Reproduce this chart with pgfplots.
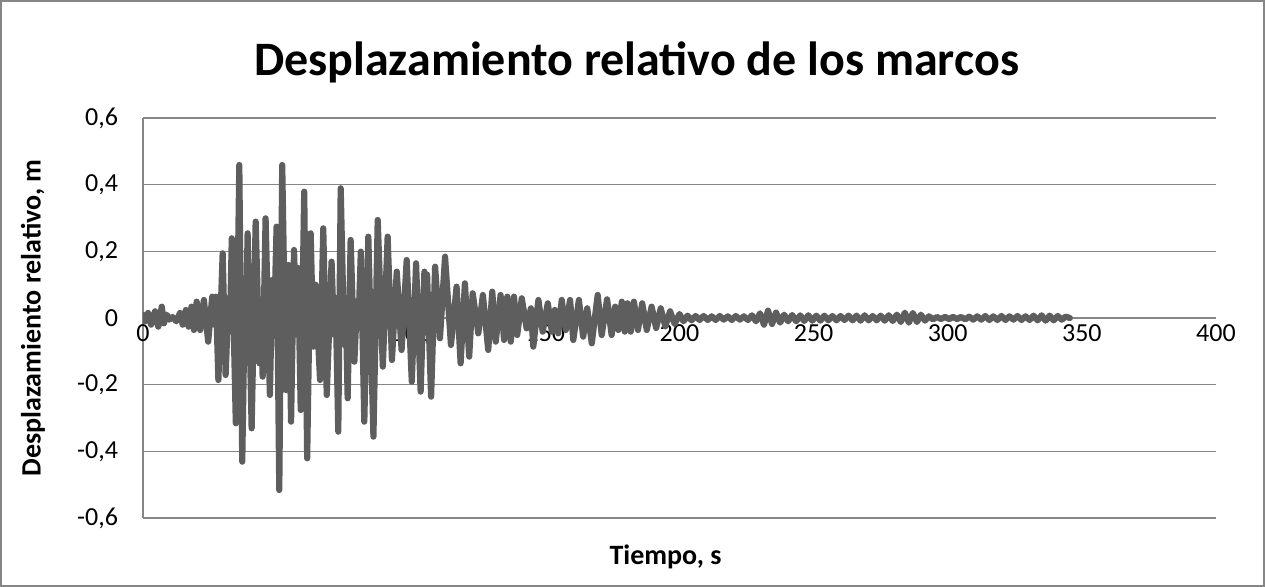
\documentclass[border=0pt]{standalone}
\usepackage{pgfplots}
\pgfplotsset{compat=1.18}
\usepackage{fontspec}
\setmainfont{Carlito}
\definecolor{gridgray}{RGB}{134,134,134}
\definecolor{linegray}{RGB}{94,94,94}
\begin{document}
\begin{tikzpicture}
\useasboundingbox (0,0) rectangle (632.5pt,293.5pt);
\draw[gridgray, line width=0.8pt] (0.5pt,0.5pt) rectangle (632pt,293pt);
\begin{axis}[
  at={(71.5pt,34.5pt)}, anchor=south west,
  scale only axis, width=536.5pt, height=200pt,
  xmin=0, xmax=400, ymin=-0.6, ymax=0.6,
  axis x line*=middle, axis y line*=left,
  axis line style={gridgray, line width=0.7pt},
  hide obscured x ticks=false, hide obscured y ticks=false,
  xtick={0,50,...,400},
  ytick={-0.6,-0.4,-0.2,0,0.2,0.4,0.6},
  major tick length=0pt,
  ymajorgrids, grid style={gridgray, line width=0.7pt},
  tick label style={font=\fontsize{13}{15}\selectfont},
  /pgf/number format/assume math mode=true,
  /pgf/number format/use comma,
  yticklabel={\pgfmathprintnumber[fixed,precision=1,use comma]{\tick}},
  xticklabel={\pgfmathprintnumber[fixed,precision=0]{\tick}},
  yticklabel style={anchor=east, xshift=-9pt},
  xticklabel style={anchor=north, yshift=0pt},
  title={\bfseries Desplazamiento relativo de los marcos},
  title style={font=\fontsize{24}{28}\selectfont, at={(rel axis cs:0.46,1.14)}, anchor=center, yshift=-6pt},
  xlabel={\bfseries Tiempo, s},
  xlabel style={font=\fontsize{14}{16}\selectfont, at={(rel axis cs:0.487,-0.0975)}, anchor=center},
  ylabel={\bfseries Desplazamiento relativo, m},
  ylabel style={font=\fontsize{14}{16}\selectfont, at={(rel axis cs:-0.1025,0.5)}, anchor=center, rotate=0},
]
\addplot[color=linegray, line width=3.1pt, line join=round, line cap=round] table {
x y
0 0.01
0.8 -0.01
1.9 0.015
3.0 -0.02
4.5 0.02
5.7 -0.026
7.0 0.034
7.8 -0.016
8.8 0.01
9.8 -0.005
11 0.003
12.4 -0.01
13.8 0.015
14.8 -0.02
16.0 0.024
17.0 -0.026
18.1 0.034
19.0 -0.036
20.0 0.049
21.3 -0.036
22.7 0.054
24.3 -0.071
25.8 0.064
26.6 -0.02
27.2 0.064
28.1 -0.186
29.7 0.194
30.8 -0.171
31.9 0.06
32.4 -0.04
33.1 0.239
34.6 -0.316
35.9 0.459
37.0 -0.431
38.0 0.08
38.4 -0.02
39.0 0.254
40.5 -0.331
42.0 0.289
43.4 -0.136
44.0 0.02
44.6 -0.176
45.7 0.299
47.3 -0.231
48.2 0.114
48.8 -0.05
49.8 0.274
50.8 -0.516
51.9 0.459
53.3 -0.216
54.2 0.159
55.2 -0.311
56.3 0.204
57.2 -0.05
57.8 0.15
58.8 -0.276
60.1 0.379
61.2 -0.421
62.5 0.254
63.5 -0.086
64.3 0.10
66.0 -0.186
67.2 0.269
68.5 -0.231
70.3 0.169
71.2 -0.05
71.8 0.06
72.8 -0.341
73.7 0.389
75.0 -0.08
75.6 0.02
76.3 -0.241
77.4 0.234
78.8 -0.131
79.8 0.05
80.3 -0.03
81.2 0.199
82.5 -0.311
84.0 0.244
85.9 -0.356
87.5 0.294
89.4 -0.146
91.2 0.244
92.8 -0.126
94.6 0.139
96.4 -0.096
98.3 0.174
100.2 -0.191
101.8 0.164
103.5 -0.221
104.9 0.139
105.4 0.06
105.9 0.13
107.4 -0.236
108.9 0.154
110.7 -0.061
112.6 0.184
114.8 -0.081
116.9 0.094
118.4 -0.136
120.0 0.104
121.6 -0.116
122.9 0.074
125.0 -0.046
126.7 0.069
128.7 -0.096
130.2 0.079
131.5 -0.071
133.3 0.069
134.6 -0.066
135.8 0.064
137.1 -0.071
138.3 0.064
139.5 -0.051
141.2 0.059
143.0 -0.031
144.6 0.029
145.5 -0.086
147.4 0.054
149.0 -0.041
150.9 0.044
152.4 -0.041
153.5 0.024
154.8 -0.046
156.1 0.054
157.6 -0.036
159.2 0.054
160.4 -0.066
162.5 0.054
164.1 -0.056
165.6 0.029
167.3 -0.076
169.5 0.069
171.0 -0.051
173.0 0.056
174.7 -0.051
176.0 0.034
177.2 -0.036
178.5 0.049
179.6 -0.041
180.6 0.044
181.8 -0.041
183.0 0.049
184.5 -0.036
186.1 0.044
187.8 -0.036
189.6 0.034
191.3 -0.03
193.0 0.029
194.7 -0.025
196.5 0.02
198.2 -0.018
200.0 0.012
201.5 -0.010
203.0 0.007
204.5 -0.007
206.0 0.006
207.5 -0.006
209.0 0.006
210.5 -0.006
212.0 0.005
213.5 -0.006
215.0 0.006
216.5 -0.005
218.0 0.005
219.5 -0.006
221.0 0.006
222.5 -0.005
224.0 0.005
225.5 -0.006
227.0 0.008
228.5 -0.010
230.0 0.014
231.5 -0.020
233.0 0.022
234.5 -0.018
236.0 0.016
237.5 -0.014
239.0 0.010
240.5 -0.010
242.0 0.009
243.5 -0.010
245.0 0.008
246.5 -0.009
248.0 0.008
249.5 -0.008
251.0 0.007
252.5 -0.008
254.0 0.007
255.5 -0.007
257.0 0.006
258.5 -0.007
260.0 0.006
261.5 -0.006
263.0 0.007
264.5 -0.007
266.0 0.007
267.5 -0.008
269.0 0.008
270.5 -0.007
272.0 0.006
273.5 -0.007
275.0 0.007
276.5 -0.008
278.0 0.008
279.5 -0.009
281.0 0.010
282.5 -0.012
284.0 0.016
285.5 -0.014
287.0 0.015
288.5 -0.012
290.0 0.010
291.5 -0.008
293.0 0.005
294.5 -0.004
296.0 0.003
297.5 -0.003
299.0 0.003
300.5 -0.003
302.0 0.003
303.5 -0.003
305.0 0.003
306.5 -0.004
308.0 0.004
309.5 -0.005
311.0 0.005
312.5 -0.005
314.0 0.006
315.5 -0.006
317.0 0.005
318.5 -0.006
320.0 0.006
321.5 -0.006
323.0 0.005
324.5 -0.005
326.0 0.006
327.5 -0.006
329.0 0.005
330.5 -0.006
332.0 0.007
333.5 -0.007
335.0 0.008
336.5 -0.008
338.0 0.007
339.5 -0.007
341.0 0.006
342.5 -0.005
344.0 0.004
345.5 0.0
};
\end{axis}
\end{tikzpicture}
\end{document}
